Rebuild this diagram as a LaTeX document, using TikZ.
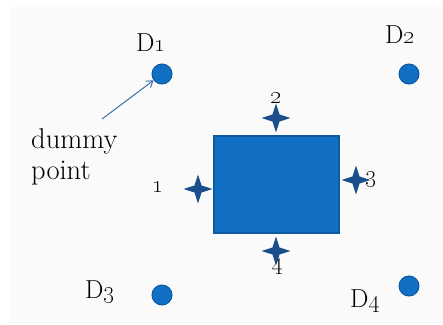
\documentclass[tikz,border=0pt]{standalone}
\usepackage{tikz}
\usepackage{xcolor}
\usetikzlibrary{shapes.geometric,arrows.meta}

\definecolor{boxblue}{HTML}{1170C4}
\definecolor{edgeblue}{HTML}{0E5A9E}
\definecolor{starblue}{HTML}{1B4F8C}
\definecolor{arrowblue}{HTML}{3F6FA6}
\definecolor{bggrey}{HTML}{FAFAFA}

\tikzset{
  dummy/.style={circle,fill=boxblue,draw=edgeblue,line width=1pt,minimum size=20pt,inner sep=0pt},
  port/.style={star,star points=4,star point ratio=2.9,fill=starblue,minimum size=29pt,inner sep=0pt},
  lbl/.style={font=\fontsize{26}{31}\selectfont,inner sep=0pt},
  note/.style={font=\fontsize{28.5}{31}\selectfont,inner sep=0pt}
}

\begin{document}
\begin{tikzpicture}[x=1pt,y=-1pt]
\useasboundingbox (0,0) rectangle (443,324);
\fill[bggrey] (10,7) rectangle (443,323);

% block
\node[fill=boxblue,draw=edgeblue,line width=1.5pt,minimum width=125pt,minimum height=97pt,inner sep=0pt] (block) at (276.5,184.5) {};

% ports
\node[port] (p1) at (198,189) {};
\node[port] (p2) at (276,118) {};
\node[port] (p3) at (356,180) {};
\node[port] (p4) at (276,251) {};
\node[lbl] (n1) at (158,187) {\oldstylenums{1}};
\node[lbl] (n2) at (276,98) {\oldstylenums{2}};
\node[lbl] (n3) at (371,180) {\oldstylenums{3}};
\node[lbl] (n4) at (277,267) {\oldstylenums{4}};

% dummy points
\node[dummy] (d1) at (162,74) {};
\node[dummy] (d2) at (409,74) {};
\node[dummy] (d3) at (162,295) {};
\node[dummy] (d4) at (409,286) {};
\node[lbl] (l1) at (151,43) {D\oldstylenums{1}};
\node[lbl] (l2) at (400,35) {D\oldstylenums{2}};
\node[lbl] (l3) at (100,292) {D\oldstylenums{3}};
\node[lbl] (l4) at (365,301) {D\oldstylenums{4}};

\node[note,anchor=west,align=left] (text) at (31,157) {dummy\\point};
\coordinate (tail) at (102,119);
\draw[arrowblue,line width=1pt,-{Straight Barb[length=6pt,width=8pt]}] (tail) -- (d1);
\end{tikzpicture}
\end{document}
